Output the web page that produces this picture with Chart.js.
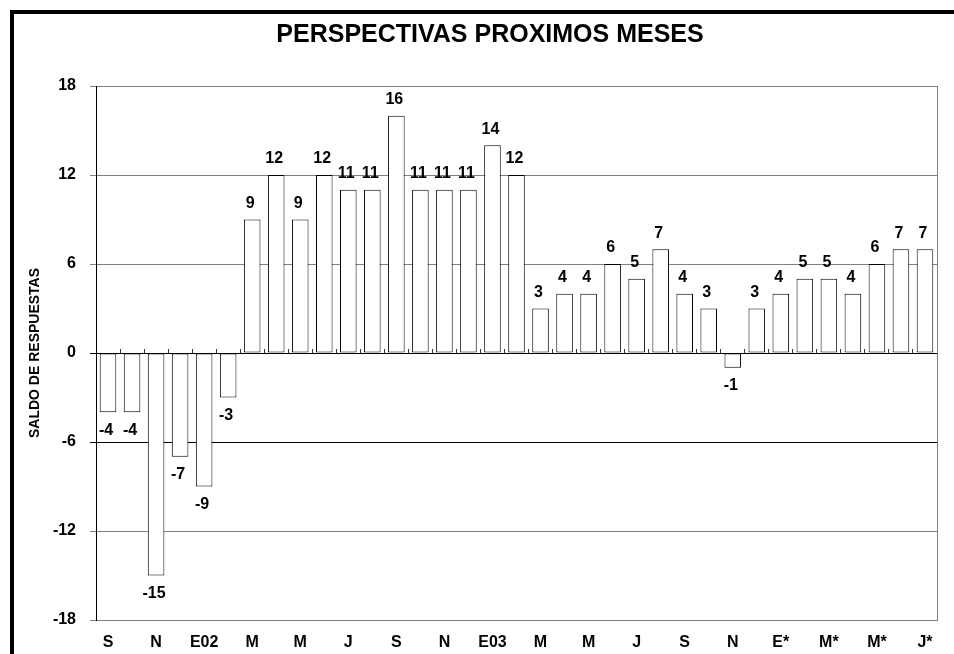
<!DOCTYPE html>
<html>
<head>
<meta charset="utf-8">
<script src="https://cdn.jsdelivr.net/npm/chart.js@4.4.1/dist/chart.umd.min.js"></script>
<style>
html,body{margin:0;padding:0;background:#fff;overflow:hidden;}
#wrap{position:relative;width:954px;height:654px;background:#fff;}
#frame{position:absolute;left:10px;top:10px;width:2000px;height:2000px;border-left:4px solid #000;border-top:4px solid #000;pointer-events:none;}
canvas{position:absolute;left:0;top:0;}
</style>
</head>
<body>
<div id="wrap"><canvas id="c" width="954" height="654"></canvas><div id="frame"></div></div>
<script>
const chartTitle = 'PERSPECTIVAS PROXIMOS MESES';
const yAxisTitle = 'SALDO DE RESPUESTAS';
const categories = ['S01','O01','N01','D01','E02','F02','M02','A02','M02','J02','J02','A02',
                    'S02','O02','N02','D02','E03','F03','M03','A03','M03','J03','J03','A03',
                    'S03','O03','N03','D03','E04','F04','M04','A04','M04','J04','J04'];
const tickLabels = ['S','','N','','E02','','M','','M','','J','',
                    'S','','N','','E03','','M','','M','','J','',
                    'S','','N','','E*','','M*','','M*','','J*'];
const values = [-4,-4,-15,-7,-9,-3,9,12,9,12,11,11,
                16,11,11,11,14,12,3,4,4,6,5,7,
                4,3,-1,3,4,5,5,4,6,7,7];
const yTicks = [-18,-12,-6,0,6,12,18];

const FONT = '"Liberation Sans", Arial, sans-serif';
Chart.defaults.font.family = FONT;
Chart.defaults.color = '#000';

const gridColor = (c) => (c.tick && (c.tick.value === 0 || c.tick.value === -6)) ? '#000000' : '#808080';

const barLabels = {
  id: 'barLabels',
  afterDatasetsDraw(chart) {
    const ctx = chart.ctx;
    const meta = chart.getDatasetMeta(0);
    ctx.save();
    ctx.font = 'bold 16px ' + FONT;
    ctx.fillStyle = '#000';
    ctx.textAlign = 'center';
    ctx.textBaseline = 'middle';
    meta.data.forEach((el, i) => {
      const v = chart.data.datasets[0].data[i];
      const y = v >= 0 ? el.y - 16 : el.y + 18;
      ctx.fillText(String(v), el.x - 2, y);
    });
    ctx.restore();
  }
};

new Chart(document.getElementById('c'), {
  type: 'bar',
  data: {
    labels: categories,
    datasets: [{
      data: values,
      backgroundColor: '#ffffff',
      borderColor: '#000000',
      borderWidth: 1,
      borderSkipped: false,
      barPercentage: 0.69,
      categoryPercentage: 1.0
    }]
  },
  options: {
    responsive: false,
    animation: false,
    devicePixelRatio: 1,
    layout: { padding: { left: 26, right: 0, top: 0, bottom: 0 } },
    plugins: {
      legend: { display: false },
      tooltip: { enabled: false },
      title: {
        display: true,
        text: chartTitle,
        color: '#000',
        font: { size: 25, weight: 'bold', family: FONT },
        padding: { top: 20, bottom: 36 }
      }
    },
    scales: {
      x: {
        type: 'category',
        position: 'bottom',
        offset: true,
        grid: { display: false, drawTicks: false, offset: true },
        border: { display: false },
        ticks: {
          autoSkip: false,
          maxRotation: 0,
          minRotation: 0,
          padding: 13,
          color: '#000',
          font: { size: 16, weight: 'bold' },
          callback: (v, i) => tickLabels[i]
        },
        afterFit: (s) => { s.height = 34; }
      },
      x0: {
        type: 'category',
        position: { y: 0 },
        offset: true,
        grid: { display: true, drawOnChartArea: false, drawTicks: true, tickLength: -5, offset: true, color: '#333333', lineWidth: 1 },
        border: { display: true, color: '#000000', width: 1 },
        ticks: { display: false }
      },
      y: {
        type: 'linear',
        position: 'left',
        min: -18,
        max: 18,
        afterBuildTicks: (s) => { s.ticks = yTicks.map(v => ({ value: v })); },
        grid: { color: gridColor, lineWidth: 1, tickLength: 6, drawTicks: true },
        border: { display: true, color: '#000000', width: 1 },
        ticks: {
          padding: 14,
          color: '#000',
          font: { size: 16, weight: 'bold' }
        },
        title: {
          display: true,
          text: yAxisTitle,
          color: '#000',
          font: { size: 14, weight: 'bold' },
          padding: { top: 0.6, bottom: 0 }
        },
        afterFit: (s) => { s.width = 70; }
      },
      y2: {
        type: 'linear',
        position: 'right',
        min: -18,
        max: 18,
        grid: { display: false, drawOnChartArea: false, drawTicks: false },
        border: { display: true, color: '#808080', width: 1 },
        ticks: { display: false },
        afterFit: (s) => { s.width = 17; }
      }
    }
  },
  plugins: [barLabels]
});
</script>
</body>
</html>
